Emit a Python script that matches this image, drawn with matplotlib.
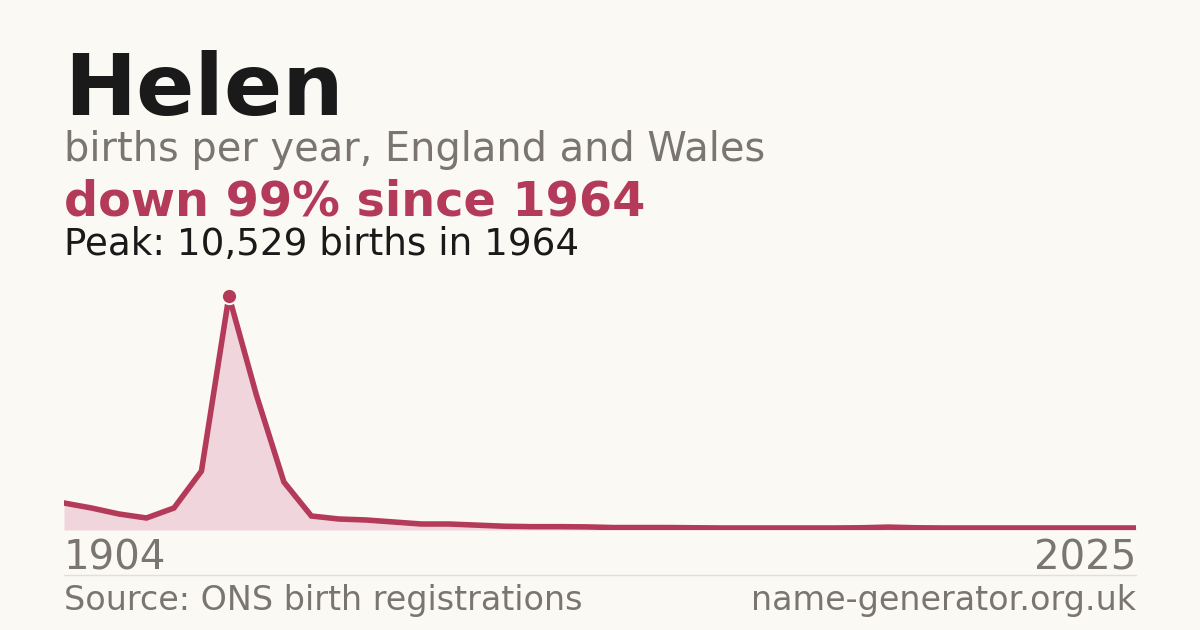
import matplotlib
matplotlib.use("Agg")
import matplotlib.pyplot as plt

values = [1215, 990, 720, 540, 990, 2650, 10529, 6070, 2160, 630, 495, 450, 360, 270,
          270, 220, 170, 150, 150, 140, 110, 110, 110, 100, 90, 90, 90, 90, 90, 100,
          130, 100, 90, 90, 90, 90, 90, 90, 90, 90]
start_year, end_year = "1904", "2025"
title = "Helen"
subtitle = "births per year, England and Wales"
headline = "down 99% since 1964"
peak_text = "Peak: 10,529 births in 1964"
source = "Source: ONS birth registrations"
site = "name-generator.org.uk"

bg = "#faf9f4"
red = "#b33a58"
gray = "#7a7570"
W, H = 1200, 630
fig = plt.figure(figsize=(12, 6.3), dpi=100, facecolor=bg)
ax = fig.add_axes([64/W, 1-530/H, 1072/W, (530-296)/H])
ax.set_facecolor(bg)
x = list(range(len(values)))
ax.fill_between(x, values, 0, color="#f1d5dc", lw=0)
ax.plot(x, values, color=red, lw=4, solid_joinstyle="miter")
pk = values.index(max(values))
ax.plot([pk], [values[pk]], "o", color=red, ms=11, mec=bg, mew=1.5, clip_on=False, zorder=5)
ax.set_xlim(0, len(values)-1)
ax.set_ylim(0, max(values))
ax.axis("off")

def t(xp, yp, s, size, color, weight="normal", ha="left"):
    fig.text(xp/W, 1-yp/H, s, fontsize=size, color=color, weight=weight, ha=ha,
             va="baseline", family="DejaVu Sans")

t(64, 115, title, 62, "#1a1a1a", "bold")
t(64, 161, subtitle, 28.7, gray)
t(64, 215, headline, 34.4, red, "bold")
t(64, 255, peak_text, 26.8, "#1a1a1a")
t(64, 570, start_year, 29, gray)
t(1136, 570, end_year, 29, gray, ha="right")
t(64, 610, source, 24, gray)
t(1136, 610, site, 24, gray, ha="right")
fig.add_artist(plt.Line2D([64/W, 1136/W], [1-575/H]*2, color="#e2dfd8", lw=1))
fig.savefig("out.png", dpi=100, facecolor=bg)
